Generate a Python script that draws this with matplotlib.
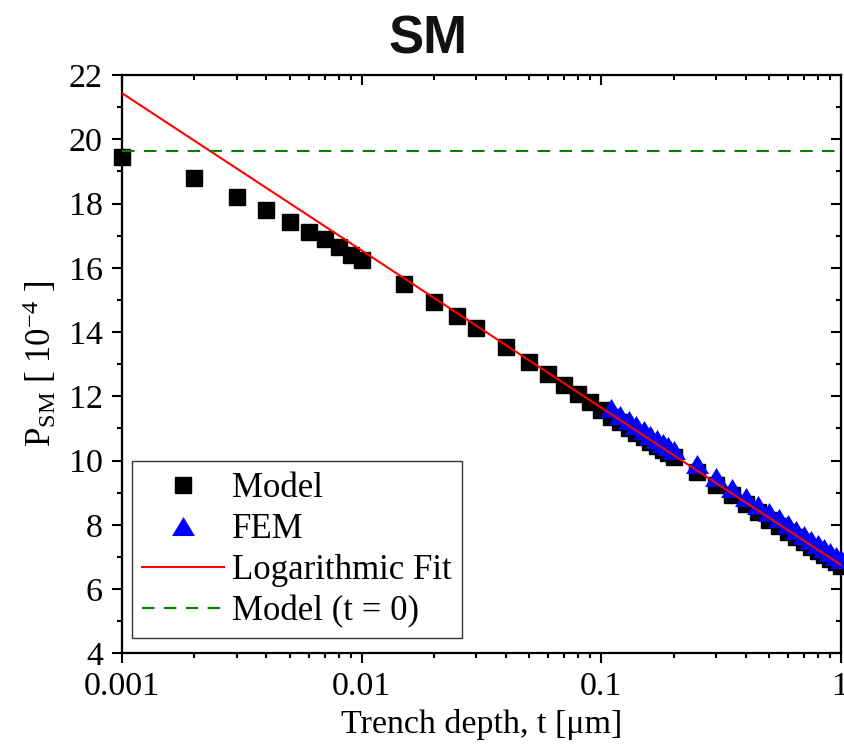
import numpy as np
import matplotlib
matplotlib.use("Agg")
import matplotlib.pyplot as plt
from matplotlib.ticker import MultipleLocator, FixedLocator, FixedFormatter, LogLocator, NullFormatter
from matplotlib.path import Path

# ---- data -------------------------------------------------------------
model_t = [0.001, 0.002, 0.003, 0.004, 0.005, 0.006, 0.007, 0.008, 0.009, 0.01,
           0.015, 0.02, 0.025, 0.03, 0.04, 0.05, 0.06, 0.07, 0.08, 0.09, 0.1,
           0.11, 0.12, 0.13, 0.14, 0.15, 0.16, 0.17, 0.18, 0.19, 0.2,
           0.25, 0.3, 0.35, 0.4, 0.45, 0.5, 0.55, 0.6, 0.65, 0.7, 0.75,
           0.8, 0.85, 0.9, 0.95, 1.0]
model_p = [19.45, 18.78, 18.21, 17.80, 17.43, 17.12, 16.90, 16.66, 16.41, 16.23,
           15.49, 14.93, 14.49, 14.12, 13.52, 13.07, 12.68, 12.35, 12.07, 11.83, 11.57,
           11.37, 11.19, 11.02, 10.87, 10.72, 10.58, 10.45, 10.33, 10.22, 10.11,
           9.64, 9.25, 8.92, 8.64, 8.39, 8.16, 7.96, 7.78, 7.62, 7.46, 7.32,
           7.18, 7.06, 6.94, 6.83, 6.72]

fem_t = [0.11, 0.12, 0.13, 0.14, 0.15, 0.16, 0.17, 0.18, 0.19, 0.2,
         0.25, 0.3, 0.35, 0.4, 0.45, 0.5, 0.55, 0.6, 0.65, 0.7, 0.75,
         0.8, 0.85, 0.9, 0.95, 1.0]
fem_p = [11.62, 11.43, 11.26, 11.10, 10.95, 10.81, 10.68, 10.56, 10.45, 10.32,
         9.88, 9.49, 9.16, 8.88, 8.63, 8.40, 8.20, 8.02, 7.85, 7.69, 7.54,
         7.40, 7.28, 7.15, 7.04, 6.93]

# logarithmic fit  P = a + b*log10(t)
fit_a = 6.75
fit_b = -4.893
fit_range = [0.001, 1.0]

p_t0 = 19.63  # model value at t = 0

x_ticks = [0.001, 0.01, 0.1, 1]
x_ticklabels = ["0.001", "0.01", "0.1", "1"]
y_ticks = [4, 6, 8, 10, 12, 14, 16, 18, 20, 22]

# ---- style ------------------------------------------------------------
plt.rcParams["font.family"] = ["Liberation Serif", "DejaVu Serif"]
plt.rcParams["mathtext.fontset"] = "custom"
plt.rcParams["mathtext.rm"] = "Liberation Serif"
plt.rcParams["mathtext.it"] = "Liberation Serif:italic"
plt.rcParams["mathtext.bf"] = "Liberation Serif:bold"

fig = plt.figure(figsize=(8.45, 7.48), dpi=100)
ax = fig.add_axes([0.1447, 0.1266, 0.8505, 0.7731])

tri = Path([(0, 1), (-1.2, -1), (1.2, -1), (0, 1)],
           [Path.MOVETO, Path.LINETO, Path.LINETO, Path.CLOSEPOLY])

ax.plot(model_t, model_p, linestyle="none", marker="s", markersize=11.5,
        color="black", label="Model", zorder=2, clip_on=False)
ax.plot(fem_t, fem_p, linestyle="none", marker=tri, markersize=16.5,
        color="#0000ff", markeredgewidth=0, label="FEM", zorder=3, clip_on=False)

tt = np.logspace(np.log10(fit_range[0]), np.log10(fit_range[1]), 200)
ax.plot(tt, fit_a + fit_b * np.log10(tt), color="#ff0000", lw=1.5,
        label="Logarithmic Fit", zorder=4)
ax.axhline(p_t0, color="#008000", lw=1.5, dashes=(6, 4.5),
           label="Model (t = 0)", zorder=4)

ax.set_xscale("log")
ax.set_xlim(0.001, 1)
ax.set_ylim(4, 22)

ax.xaxis.set_major_locator(FixedLocator(x_ticks))
ax.xaxis.set_major_formatter(FixedFormatter(x_ticklabels))
ax.xaxis.set_minor_locator(LogLocator(base=10, subs=np.arange(2, 10)))
ax.xaxis.set_minor_formatter(NullFormatter())
ax.yaxis.set_major_locator(FixedLocator(y_ticks))
ax.yaxis.set_minor_locator(MultipleLocator(1))

for s in ax.spines.values():
    s.set_linewidth(1.5)

ax.tick_params(which="major", direction="out", length=7.5, width=1.5,
               labelsize=24.5)
ax.tick_params(which="minor", direction="out", length=3.5, width=1.5)
ax.tick_params(axis="y", which="major", pad=6.5)
ax.tick_params(axis="x", which="major", pad=5.5)

# inward ticks on the top and right edges
axt = ax.twiny()
axt.set_xscale("log")
axt.set_xlim(ax.get_xlim())
axt.xaxis.set_major_locator(FixedLocator(x_ticks))
axt.xaxis.set_minor_locator(LogLocator(base=10, subs=np.arange(2, 10)))
axt.tick_params(which="major", direction="in", length=7.5, width=1.5,
                labeltop=False)
axt.tick_params(which="minor", direction="in", length=3.5, width=1.5)
axr = ax.twinx()
axr.set_ylim(ax.get_ylim())
axr.yaxis.set_major_locator(FixedLocator(y_ticks))
axr.yaxis.set_minor_locator(MultipleLocator(1))
axr.tick_params(which="major", direction="in", length=7.5, width=1.5,
                labelright=False)
axr.tick_params(which="minor", direction="in", length=3.5, width=1.5)
for a in (axt, axr):
    a.patch.set_visible(False)
    for s in a.spines.values():
        s.set_linewidth(1.5)

leg = ax.legend(loc="lower left", bbox_to_anchor=(0.013, 0.026),
                borderaxespad=0, fontsize=25, frameon=True, fancybox=False,
                framealpha=1, edgecolor="#333333", numpoints=1,
                handlelength=2.35, handletextpad=0.25, labelspacing=0.23,
                borderpad=0.3)
leg.get_frame().set_linewidth(1.0)
leg.set_zorder(10)
ax.set_zorder(axt.get_zorder() + 1)
ax.patch.set_visible(False)

fig.text(0.5065, 1 - 53.3 / 748, "SM", family="Liberation Sans",
         fontweight="bold", fontsize=38, ha="center", va="baseline",
         color="#111111")
fig.text(0.047, 1 - 364 / 748, r"P$_{\rm SM}$ [ 10$^{-4}$ ]", fontsize=25,
         rotation=90, ha="center", va="center")
fig.text((122.3 + 841) / 2 / 845, 1 - 724 / 748, r"Trench depth, t [μm]",
         fontsize=24.5, ha="center", va="center")

fig.savefig("out.png", dpi=100)
